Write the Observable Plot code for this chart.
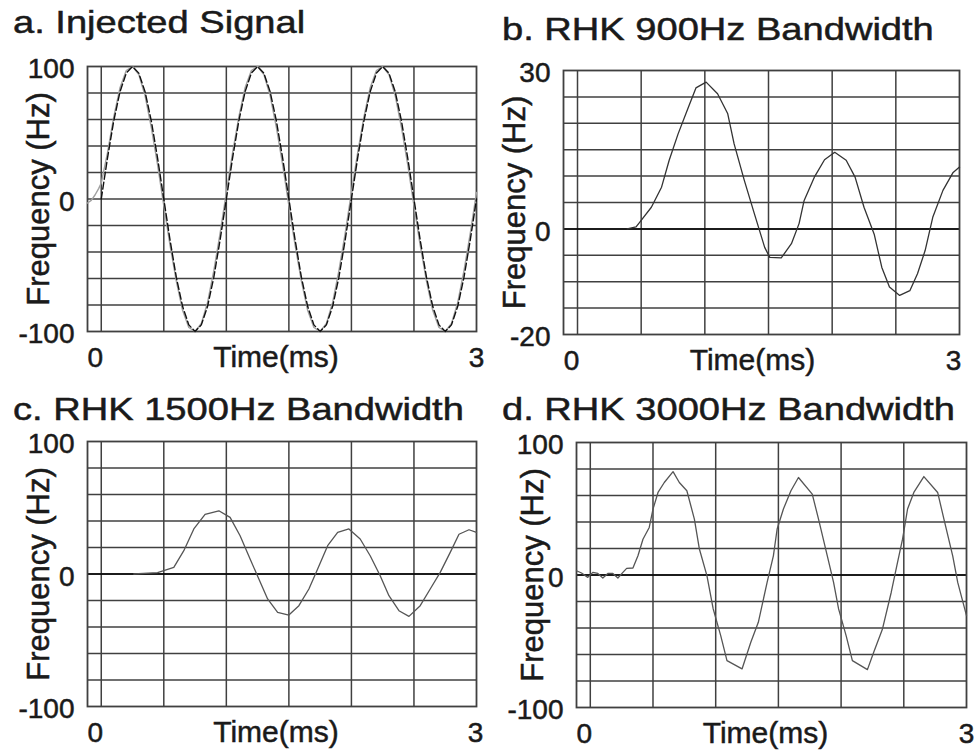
<!DOCTYPE html>
<html><head><meta charset="utf-8">
<script src="https://cdn.jsdelivr.net/npm/d3@7"></script>
<script src="https://cdn.jsdelivr.net/npm/@observablehq/plot@0.6"></script>
<style>
body{margin:0;background:#fff;}
#root{position:relative;width:977px;height:751px;overflow:hidden;font-family:"Liberation Sans",Arial,sans-serif;color:#1a1a1a;background:#fff;}
.title{position:absolute;font-size:32px;line-height:32px;white-space:nowrap;transform:scaleX(1.19);transform-origin:0 0;z-index:2;-webkit-text-stroke:0.5px #1a1a1a;}
.panel{position:absolute;z-index:1;}
#root svg text{stroke:#1a1a1a;stroke-width:0.5px;}
</style></head><body><div id="root"></div>
<script>
// ---- labels ----
const titles = ["a. Injected Signal", "b. RHK 900Hz Bandwidth", "c. RHK 1500Hz Bandwidth", "d. RHK 3000Hz Bandwidth"];
const xLabel = "Time(ms)";
const yLabel = "Frequency (Hz)";
const xTickLabels = [0, 3];
const xDomain = [-0.11, 3];
const xGrid = [0, 0.5, 1, 1.5, 2, 2.5];

// y ticks / grid
const yTicks100 = [100, 0, -100];
const yGrid100 = [-80, -60, -40, -20, 0, 20, 40, 60, 80];
const yTicksB = [30, 0, -20];
const yGridB = [-15, -10, -5, 0, 5, 10, 15, 20, 25];

// ---- panel a: injected signal (dashed) and measured (grey) ----
const tA = [0,0.05,0.1,0.15,0.2,0.25,0.3,0.35,0.4,0.45,0.5,0.55,0.6,0.65,0.7,0.75,0.8,0.85,0.9,0.95,1,1.05,1.1,1.15,1.2,1.25,1.3,1.35,1.4,1.45,1.5,1.55,1.6,1.65,1.7,1.75,1.8,1.85,1.9,1.95,2,2.05,2.1,2.15,2.2,2.25,2.3,2.35,2.4,2.45,2.5,2.55,2.6,2.65,2.7,2.75,2.8,2.85,2.9,2.95,3];
const vA = [0,31,59,81,95,100,95,81,59,31,0,-31,-59,-81,-95,-100,-95,-81,-59,-31,0,31,59,81,95,100,95,81,59,31,0,-31,-59,-81,-95,-100,-95,-81,-59,-31,0,31,59,81,95,100,95,81,59,31,0,-31,-59,-81,-95,-100,-95,-81,-59,-31,0];
const tG = [-0.11,-0.08,-0.05,-0.02,0,0.05,0.1,0.15,0.2,0.25,0.3,0.35,0.4,0.45,0.5,0.55,0.6,0.65,0.7,0.75,0.8,0.85,0.9,0.95,1,1.05,1.1,1.15,1.2,1.25,1.3,1.35,1.4,1.45,1.5,1.55,1.6,1.65,1.7,1.75,1.8,1.85,1.9,1.95,2,2.05,2.1,2.15,2.2,2.25,2.3,2.35,2.4,2.45,2.5,2.55,2.6,2.65,2.7,2.75,2.8,2.85,2.9,2.95,3];
const vG = [-3,-1,3,8,12,35,62,84,97,100,94,78,54,26,-5,-35,-62,-84,-97,-100,-94,-78,-54,-26,5,35,62,84,97,100,94,78,54,26,-5,-35,-62,-84,-97,-100,-94,-78,-54,-26,5,35,62,84,97,100,94,78,54,26,-5,-35,-62,-84,-97,-100,-94,-78,-54,-26,5];

// ---- panel b: 900 Hz ----
const tB = [0.39,0.46,0.50,0.58,0.66,0.72,0.79,0.87,0.93,1.01,1.10,1.18,1.23,1.31,1.39,1.47,1.51,1.60,1.68,1.74,1.78,1.86,1.94,2.02,2.11,2.18,2.25,2.33,2.39,2.45,2.53,2.61,2.67,2.73,2.79,2.87,2.95,3.0];
const vB = [0,0.4,1.6,4.1,7.9,13,18,23,26.7,27.8,25.6,21.8,16.1,9.2,2.8,-3.5,-5.4,-5.5,-2.8,1,5.4,9.8,13.1,14.5,13,9.8,4.1,-1,-7.3,-11,-12.6,-11.7,-8.5,-4.1,2.2,7.3,10.7,11.7];

// ---- panel c: 1500 Hz ----
const tC = [0.26,0.45,0.50,0.58,0.66,0.74,0.83,0.94,1.03,1.11,1.19,1.26,1.33,1.41,1.50,1.58,1.66,1.73,1.81,1.89,1.98,2.07,2.15,2.23,2.30,2.38,2.46,2.55,2.63,2.71,2.79,2.86,2.94,3.0];
const vC = [0,1,2.5,5,17.6,34,45,47.7,42.7,28.9,11.3,-3.8,-18.8,-28.9,-31,-23.9,-11.3,3.8,21.4,31.4,34,26.4,13.8,-1.3,-16.4,-27.7,-32,-23.9,-11.3,1.2,16.3,30,33.4,31.4];

// ---- panel d: 3000 Hz ----
const tD = [-0.11,-0.07,-0.02,0.02,0.06,0.10,0.14,0.18,0.22,0.26,0.29,0.34,0.38,0.42,0.47,0.50,0.54,0.59,0.66,0.71,0.77,0.83,0.87,0.93,0.98,1.04,1.09,1.21,1.28,1.34,1.41,1.46,1.49,1.54,1.60,1.66,1.77,1.82,1.89,1.94,1.98,2.04,2.09,2.21,2.26,2.33,2.40,2.45,2.49,2.53,2.58,2.66,2.77,2.82,2.89,2.93,3.0];
const vD = [3.2,1.5,-1.8,2,1.2,-2.3,1.2,1.2,-2.3,2,5,5.3,14.5,27,35.9,49.7,62.3,69.8,78,69.8,63.6,42.2,19.6,-0.5,-25.6,-45.8,-64.6,-70.9,-50.8,-35.7,-5.6,14.5,34.7,49.8,63.6,73.6,61,42.2,14.5,-5.6,-25.6,-45.8,-64.6,-71.4,-58.3,-40.7,-13,9.5,27,49.8,62.3,74.3,62.3,42.2,14.5,-5.6,-30.7];

const rows = (t, v) => t.map((x, i) => ({t: x, v: v[i]}));
const gridColor = "#404040";

function makePanel(cfg) {
  const marks = [
    Plot.ruleX(xGrid, {stroke: gridColor, strokeWidth: 1.5}),
    Plot.ruleY(cfg.yGrid, {stroke: gridColor, strokeWidth: 1.5}),
  ];
  if (cfg.zeroDark) marks.push(Plot.ruleY([0], {stroke: "#000", strokeWidth: 1.5}));
  marks.push(Plot.frame({stroke: gridColor, strokeWidth: 1.8}));
  for (const s of cfg.series) {
    marks.push(Plot.line(rows(s.t, s.v), {x: "t", y: "v", stroke: s.color, strokeWidth: s.width, strokeDasharray: s.dash}));
  }
  marks.push(
    Plot.axisY(cfg.yTicks, {anchor: "left", tickSize: 0, tickPadding: 13, dy: 3, fontSize: 28, label: null, tickFormat: d => String(d)}),
    Plot.text([xTickLabels[0]], {x: d => d, text: d => String(d), frameAnchor: "bottom", lineAnchor: "bottom", textAnchor: "middle", dy: 35, dx: -6, fontSize: 28}),
    Plot.text([xTickLabels[1]], {x: d => d, text: d => String(d), frameAnchor: "bottom", lineAnchor: "bottom", textAnchor: "middle", dy: 35, dx: cfg.dx3, fontSize: 28}),
    Plot.text([xLabel], {frameAnchor: "bottom", lineAnchor: "bottom", textAnchor: "middle", dy: 35, dx: cfg.dxTime, fontSize: 30}),
    Plot.text([yLabel], {frameAnchor: "left", textAnchor: "middle", lineAnchor: "middle", rotate: -90, dx: cfg.dxY, fontSize: 31})
  );
  return Plot.plot({
    width: cfg.width, height: cfg.height,
    marginLeft: cfg.ml, marginRight: cfg.mr, marginTop: cfg.mt, marginBottom: cfg.mb,
    x: {domain: xDomain, axis: null},
    y: {domain: cfg.yDomain},
    style: {fontFamily: '"Liberation Sans", Arial, sans-serif', color: "#1a1a1a", background: "transparent", overflow: "visible"},
    marks
  });
}

const root = document.getElementById("root");
const panels = [
  {left: 0, top: 40, width: 488, height: 336, ml: 87, mr: 12, mt: 26, mb: 45, yDomain: [-100, 100], yTicks: yTicks100, yGrid: yGrid100, zeroDark: false, dxY: -48, dx3: 0, dxTime: -6,
   series: [{t: tG, v: vG, color: "#a0a0a0", width: 1.4}, {t: tA, v: vA, color: "#111", width: 1.4, dash: "7,3"}]},
  {left: 487, top: 40, width: 490, height: 339, ml: 76, mr: 18, mt: 30, mb: 45, yDomain: [-20, 30], yTicks: yTicksB, yGrid: yGridB, zeroDark: true, dxY: -48, dx3: -6, dxTime: -9,
   series: [{t: tB, v: vB, color: "#333", width: 1.3}]},
  {left: 0, top: 400, width: 488, height: 351, ml: 87, mr: 12, mt: 41, mb: 45, yDomain: [-100, 100], yTicks: yTicks100, yGrid: yGrid100, zeroDark: true, dxY: -48, dx3: -1, dxTime: -6,
   series: [{t: tC, v: vC, color: "#555", width: 1.3}]},
  {left: 487, top: 400, width: 490, height: 351, ml: 89, mr: 11, mt: 42, mb: 44, yDomain: [-100, 100], yTicks: yTicks100, yGrid: yGrid100, zeroDark: true, dxY: -43, dx3: 0, dxTime: -6,
   series: [{t: tD, v: vD, color: "#555", width: 1.3}]}
];
const titlePos = [[13, 6], [502, 13], [13, 393], [502, 393]];

panels.forEach((cfg, i) => {
  const div = document.createElement("div");
  div.className = "panel";
  div.style.left = cfg.left + "px";
  div.style.top = cfg.top + "px";
  root.appendChild(div);
  div.appendChild(makePanel(cfg));
  const t = document.createElement("div");
  t.className = "title";
  t.textContent = titles[i];
  t.style.left = titlePos[i][0] + "px";
  t.style.top = titlePos[i][1] + "px";
  root.appendChild(t);
});
</script></body></html>
